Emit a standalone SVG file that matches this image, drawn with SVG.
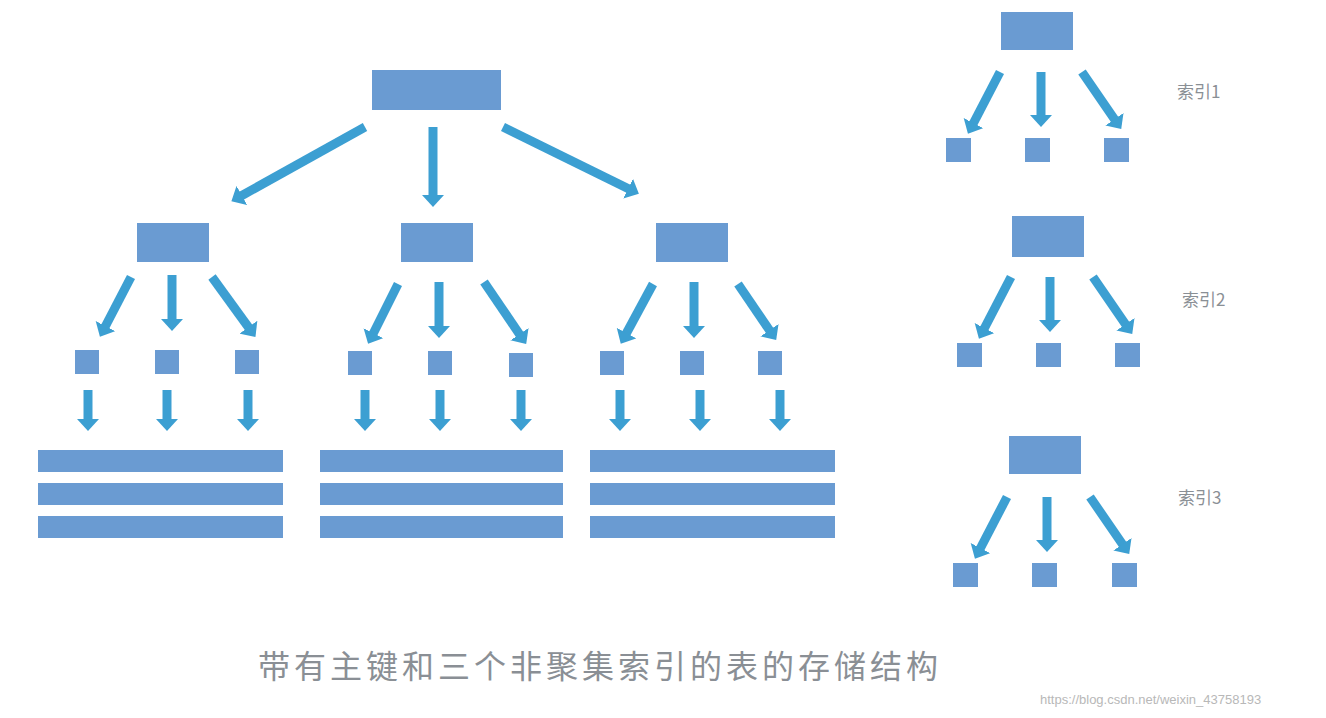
<svg xmlns="http://www.w3.org/2000/svg" width="1326" height="718" viewBox="0 0 1326 718">
<style>
.b{fill:#6a9bd2}
.a{stroke:#3c9fd2;stroke-width:9;fill:none;marker-end:url(#h)}
.t{font-family:"Noto Sans CJK SC","Liberation Sans",sans-serif;fill:#8a8f95}
</style>
<defs>
<marker id="h" viewBox="0 0 12 22" refX="1" refY="11" markerWidth="12" markerHeight="22" markerUnits="userSpaceOnUse" orient="auto"><path d="M0,0 L12,11 L0,22 z" fill="#3c9fd2"/></marker>
</defs>
<rect width="1326" height="718" fill="#fff"/>
<g id="root"><rect class="b" x="372" y="70" width="129" height="40"/></g>
<g id="n1"><rect class="b" x="137" y="223" width="72" height="39"/></g>
<g id="n2"><rect class="b" x="401" y="223" width="72" height="39"/></g>
<g id="n3"><rect class="b" x="656" y="223" width="72" height="39"/></g>
<g id="leaves">
<rect class="b" x="75" y="350" width="24" height="24"/><rect class="b" x="155" y="350" width="24" height="24"/><rect class="b" x="235" y="350" width="24" height="24"/>
<rect class="b" x="348" y="351" width="24" height="24"/><rect class="b" x="428" y="351" width="24" height="24"/><rect class="b" x="509" y="353" width="24" height="24"/>
<rect class="b" x="600" y="351" width="24" height="24"/><rect class="b" x="680" y="351" width="24" height="24"/><rect class="b" x="758" y="351" width="24" height="24"/>
</g>
<g id="t1"><rect class="b" x="38" y="450" width="245" height="22"/><rect class="b" x="38" y="483" width="245" height="22"/><rect class="b" x="38" y="516" width="245" height="22"/></g>
<g id="t2"><rect class="b" x="320" y="450" width="243" height="22"/><rect class="b" x="320" y="483" width="243" height="22"/><rect class="b" x="320" y="516" width="243" height="22"/></g>
<g id="t3"><rect class="b" x="590" y="450" width="245" height="22"/><rect class="b" x="590" y="483" width="245" height="22"/><rect class="b" x="590" y="516" width="245" height="22"/></g>
<g id="i1"><rect class="b" x="1001" y="12" width="72" height="38"/><rect class="b" x="946" y="138" width="25" height="24"/><rect class="b" x="1025" y="138" width="25" height="24"/><rect class="b" x="1104" y="138" width="25" height="24"/></g>
<g id="i2"><rect class="b" x="1012" y="216" width="72" height="41"/><rect class="b" x="957" y="343" width="25" height="24"/><rect class="b" x="1036" y="343" width="25" height="24"/><rect class="b" x="1115" y="343" width="25" height="24"/></g>
<g id="i3"><rect class="b" x="1009" y="436" width="72" height="38"/><rect class="b" x="953" y="563" width="25" height="24"/><rect class="b" x="1032" y="563" width="25" height="24"/><rect class="b" x="1112" y="563" width="25" height="24"/></g>
<g id="connectors">
<line class="a" x1="365" y1="127" x2="241" y2="196"/>
<line class="a" x1="433" y1="127" x2="433" y2="196"/>
<line class="a" x1="503" y1="127" x2="629" y2="189"/>
<line class="a" x1="131" y1="277" x2="105" y2="327"/><line class="a" x1="172" y1="275" x2="172" y2="320"/><line class="a" x1="212" y1="277" x2="249" y2="328"/>
<line class="a" x1="398" y1="284" x2="373" y2="334"/><line class="a" x1="439" y1="282" x2="439" y2="327"/><line class="a" x1="484" y1="282" x2="520" y2="335"/>
<line class="a" x1="653" y1="284" x2="626" y2="334"/><line class="a" x1="694" y1="282" x2="694" y2="327"/><line class="a" x1="738" y1="284" x2="770" y2="331"/>
<line class="a" x1="88" y1="390" x2="88" y2="420"/><line class="a" x1="167" y1="390" x2="167" y2="420"/><line class="a" x1="248" y1="390" x2="248" y2="420"/>
<line class="a" x1="365" y1="390" x2="365" y2="420"/><line class="a" x1="440" y1="390" x2="440" y2="420"/><line class="a" x1="521" y1="390" x2="521" y2="420"/>
<line class="a" x1="620" y1="390" x2="620" y2="420"/><line class="a" x1="700" y1="390" x2="700" y2="420"/><line class="a" x1="780" y1="390" x2="780" y2="420"/>
<line class="a" x1="1000" y1="72" x2="973" y2="124"/><line class="a" x1="1041" y1="72" x2="1041" y2="116"/><line class="a" x1="1082" y1="72" x2="1115" y2="120"/>
<line class="a" x1="1011" y1="277" x2="984" y2="329"/><line class="a" x1="1050" y1="277" x2="1050" y2="321"/><line class="a" x1="1093" y1="277" x2="1126" y2="325"/>
<line class="a" x1="1007" y1="497" x2="980" y2="549"/><line class="a" x1="1047" y1="497" x2="1047" y2="541"/><line class="a" x1="1090" y1="497" x2="1123" y2="545"/>
</g>
<text class="t" x="1177" y="98" font-size="17">索引1</text>
<text class="t" x="1182" y="306" font-size="17">索引2</text>
<text class="t" x="1178" y="504" font-size="17">索引3</text>
<text class="t" x="258" y="678" font-size="32" letter-spacing="4" fill="#7a8088">带有主键和三个非聚集索引的表的存储结构</text>
<text x="1040" y="704" font-size="13" font-family="Liberation Sans,sans-serif" fill="#b8b8b8">https://blog.csdn.net/weixin_43758193</text>
</svg>
